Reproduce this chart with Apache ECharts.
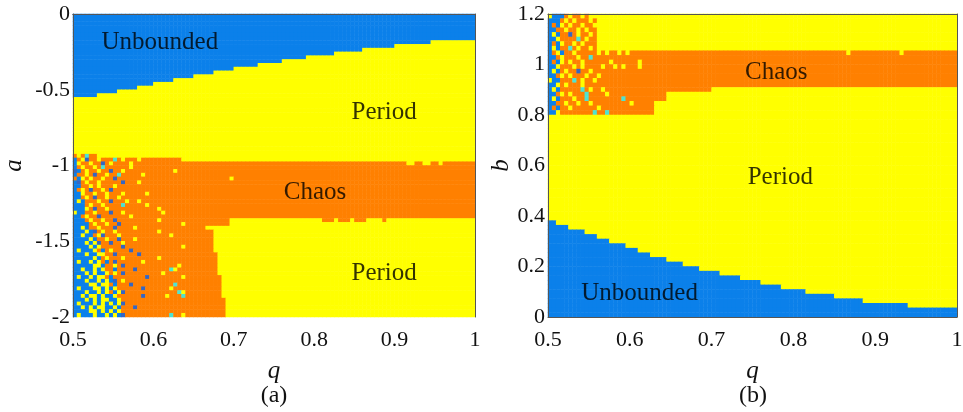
<!DOCTYPE html>
<html>
<head>
<meta charset="utf-8">
<script src="https://cdn.jsdelivr.net/npm/echarts@6/dist/echarts.min.js"></script>
<style>
html,body{margin:0;padding:0;background:#fff;}
#chart{width:963px;height:412px;}
</style>
</head>
<body>
<div id="chart"></div>
<script>
// ---------------- data ----------------
// Cell codes: U = unbounded (blue), D = dark blue, Q = cyan, P = period (yellow), C = chaos (orange)
// Rows listed from top to bottom; tokens "X" = one cell, "Xn" = n cells, "X*" = fill to end of row.
const colsA = 100;            // q from 0.5 to 1
const rowsCountA = 80;        // a from 0 (top) to -2 (bottom)
const rowsA = [
"U*","U*","U*","U*","U*","U*","U*",
"U89 P*","U80 P*","U72 P*","U65 P*","U58 P*","U52 P*","U46 P*","U40 P*",
"U35 P*","U30 P*","U25 P*","U20 P*","U16 P*","U11 P*","U6 P*",
"P*","P*","P*","P*","P*","P*","P*","P*","P*","P*","P*","P*","P*","P*","P*",
"CPCQC C P*",
"UCPDC CPCCC QCPCC CPCCC CCCCC CC P*",
"UPCCP CCDCP CCCCP CCCCC C63 P2 C2 P2 C2 P C*",
"UCPCC PCQCC CCCCP CCCCC C*",
"DUCPC CPCCD CCPCC CCCCC CCCCC PCCCC C*",
"UCCPC DCCPC CQCCC CCPCC C*",
"CUPCP CCPCC DCCCC CCCCC CCCCC CCCCC CCCCC CCCCP C*",
"UDCPC CPCCC CCDCC CPCCC C*",
"UUCCP CPCCC PCCCC CCCCC C*",
"UCPCD CCPCD CCCCC CCCCC C*",
"UUPCC PCCPC CCPCC CCCPC C*",
"UUCPC DCCPC CPCCC CCCCC C*",
"UPUCC CPCCD CCCPC CPCCC C*",
"UUUCP CCPCC CCQCC CCCPC C*",
"UUUPC DCCPC CCCCC CCCCC CPCCC C*",
"PUUCC PCCCD CCPCC CCCCC CCPCC C*",
"UUCPC CDCCC CCCCP CCCCC CCCCC C*",
"UUUCP CCPCC DCCCC CCCCC CPCCC CCCCC CCCCC CCCCP P22 C3 P C3 P C3 P4 C P*",
"UUUUC PCCPC CDCCC CCCCC CCCCC CCPCC CCCCC CCCCP P*",
"UUPUC CPCCC DCCCC PCCCC CCCCC CCCCC CCCPP PPPPP P*",
"UUUPU DCPCC PCCCC CCCCC CPCCC CCCCC CCCCC PPPPP P*",
"UUPUU CPDCC CPCCC CCCCC CCCCP CCCCC CCCCC PPPPP P*",
"UUUUP UCCPC CDCCC PCCCC CCCCC CCCCC CCCCC PPPPP P*",
"UUUPU PDCCD CCPCC CCCCC CCCCC CCCCC CCCCC PPPPP P*",
"UUUUP UPCCC CCDCC CCCCC CCCCC CCPCC CCCCC PPPPP P*",
"UPUUU PCUCP CCCCD CCCCC CCCCC CCCCC CCCCC PPPPP P*",
"UUUPU UPPCC DCCCC CDCCC CCCCC CCCCC CCCCC CPPPP P*",
"UUUUU PUCPC CCPCC CCCCC CPCCC CCCCC CCCCC CPPPP P*",
"UPUUP UPCUC DCCCC CCPCC CCCCC CCCCC CCCCC CPPPP P*",
"UUUUU PPUCC PCDCC CCCCC CCCCC CPCCC CCCCC CPPPP P*",
"UUPUU PUPCC UCCCC DCCCC CCCCQ PCCCC CCCCC CPPPP P*",
"UUUPU PUUPC PCDCC CCCCC CCPCC CCCCC CCCCC CPPPP P*",
"UPUUP UPPCU CCCCC CCCDC CCCCC CCPCC CCCCC CCPPP P*",
"UUUPU UPUPU DCPCC CCCCC CCCCC CCCCC CCCCC CCPPP P*",
"UUUUP PUPPC UCCCD CCCCC CCCCC QCCCC CCCCC CCPPP P*",
"UPUUU PPUPU PCCCC CCDCC CCCCP CCCCC CCCCC CCPPP P*",
"UUUPU UPUPC UPDCC CCCCC CCCCC CQPCC CCCCC CCPPP P*",
"UUPUP PUPUU PCCCC CCDCC CCCPC CCQCC CCCCC CCPPP P*",
"UUUPU PUPPU UPCCC CCCCC CCCCC CCCCC CCCCC CCCPP P*",
"UPUUU PUPUP UPDCC CCCCC CCCCC CCCCC CCCCC CCCPP P*",
"UUPUP UPPUU PUCCC DCCCC CCCCC CCCCC CCCCC CCCPP P*",
"UUUUP PUPUP UPCCC CCCCC CCCCC CCCCC CCCCC CCCPP P*",
"UPUUU PUUPU PUDCC CCCCC CCCCQ CCPCC CCCCC CCCPP P*"
];

const colsB = 100;            // q from 0.5 to 1
const rowsCountB = 66;        // b from 1.2 (top) to 0 (bottom)
const rowsB = [
"PUUUC PCCPC PPP P*",
"UUUCP CPCCC PCP P*",
"UCUPC PCCPC CPP P*",
"UUCCP CCPCP CCP P*",
"UPUCC DCPCC PCP P*",
"UUPCC CCQCP CCP P*",
"UCUPC CPCPC CCP P*",
"UPUCC QCPCC PCP P*",
"UCPUC CPCCC CCPCP CCPCP CCCCC C C47 P C12 P C*",
"UUCPC CCPCC QCCCC CCCCC CCCCC C C*",
"UCUPC PCCPC CCCCC PCCCC CCPCC C C*",
"UUPCC CPCPC CCCPC CPCPC CCPCC C C*",
"UPUCP CCDCC PCCCC CCCCC CCCCC C C*",
"UUCPC PCCCP CCPCC CCCCC CCCCC C C*",
"PUUCC CQCPC CPCCC CCCCC CCCCC C C*",
"UUPCP CCCPC CCCCC CCCCC CCCCC C C*",
"UPUCC CCCQC PCCPC CCCCC CCCCC C C14 P*",
"UUCPC PCCCQ CCCCP CCCCC CCCCC C C3 P*",
"UPUCC CPCCQ CCCCC CCCQC CCCCC C C3 P*",
"UUCCP CCPCC PCCCC CCCCC PCCCC C P*",
"UCUCC PCCCC CCPCC CCCCC CCCCC C P*",
"UUPCC CCCCC CQCCQ CCCCC CCCCC C P*",
"P*","P*","P*","P*","P*","P*","P*","P*","P*","P*","P*","P*",
"P*","P*","P*","P*","P*","P*","P*","P*","P*","P*","P*",
"U2 P*","U5 P*","U9 P*","U12 P*","U15 P*","U19 P*","U22 P*","U25 P*",
"U29 P*","U33 P*","U37 P*","U42 P*","U47 P*","U52 P*","U57 P*","U63 P*",
"U70 P*","U77 P*","U88 P*","U*","U*"
];

const codeValue = {U: 0, D: 1, Q: 2, P: 3, C: 4};
const codeColors = ['#0B80EA', '#3566C2', '#4FE3D0', '#FFFF00', '#FF8000'];

const xTicksA = {min: 0.5, max: 1, interval: 0.1};
const yTicksA = {min: -2, max: 0, interval: 0.5};
const xTicksB = {min: 0.5, max: 1, interval: 0.1};
const yTicksB = {min: 0, max: 1.2, interval: 0.2};

// annotations: [q, value, text]
const labelsA = [[0.608, -0.19, 'Unbounded'], [0.887, -0.647, 'Period'], [0.801, -1.18, 'Chaos'], [0.887, -1.71, 'Period']];
const labelsB = [[0.779, 0.970, 'Chaos'], [0.784, 0.554, 'Period'], [0.612, 0.095, 'Unbounded']];

// ---------------- build ----------------
function decode(rows, width) {
  return rows.map(function (s) {
    const str = s.replace(/\s+/g, '');
    const out = [];
    const re = /([A-Z])(\d+|\*)?/g;
    let m;
    while ((m = re.exec(str))) {
      const n = m[2] === '*' ? width - out.length : (m[2] ? +m[2] : 1);
      for (let i = 0; i < n; i++) out.push(m[1]);
    }
    while (out.length < width) out.push(out[out.length - 1]);
    return out.slice(0, width);
  });
}
function toHeat(rows, width, nRows) {
  const grid = decode(rows, width);
  const data = [];
  for (let r = 0; r < nRows; r++) {
    const row = grid[r];
    for (let c = 0; c < width; c++) data.push([c, nRows - 1 - r, codeValue[row[c]]]);
  }
  return data;
}
function cats(n) { const a = []; for (let i = 0; i < n; i++) a.push(String(i)); return a; }

const FONT = '"Liberation Serif", "Times New Roman", serif';
const TXT = '#111';
const lineStyle = {color: '#555', width: 1};

function valueAxis(gridIndex, ticks, pos, withLabels, name, nameGap, isY) {
  return {
    type: 'value', gridIndex: gridIndex, position: pos,
    min: ticks.min, max: ticks.max, interval: ticks.interval,
    z: 10,
    axisLine: {show: true, lineStyle: lineStyle},
    axisTick: {show: false},
    splitLine: {show: false},
    axisLabel: {show: withLabels, fontFamily: FONT, fontSize: 22, color: TXT, margin: isY ? 3 : 12},
    name: withLabels ? name : '',
    nameLocation: 'middle',
    nameGap: nameGap,
    nameTextStyle: {fontFamily: FONT, fontStyle: 'italic', fontSize: 25, color: TXT}
  };
}

const chart = echarts.init(document.getElementById('chart'), null, {renderer: 'canvas'});
const option = {
  animation: false,
  backgroundColor: '#fff',
  grid: [
    {left: 73, top: 14, width: 402, height: 303, containLabel: false, outerBoundsMode: 'none'},
    {left: 548, top: 14, width: 409, height: 303, containLabel: false, outerBoundsMode: 'none'}
  ],
  xAxis: [
    {type: 'category', gridIndex: 0, position: 'bottom', data: cats(colsA), show: false},
    valueAxis(0, xTicksA, 'bottom', true, 'q', 42, false),
    valueAxis(0, xTicksA, 'top', false, '', 0, false),
    {type: 'category', gridIndex: 1, position: 'bottom', data: cats(colsB), show: false},
    valueAxis(1, xTicksB, 'bottom', true, 'q', 42, false),
    valueAxis(1, xTicksB, 'top', false, '', 0, false)
  ],
  yAxis: [
    {type: 'category', gridIndex: 0, position: 'left', data: cats(rowsCountA), show: false},
    valueAxis(0, yTicksA, 'left', true, 'a', 46, true),
    valueAxis(0, yTicksA, 'right', false, '', 0, true),
    {type: 'category', gridIndex: 1, position: 'left', data: cats(rowsCountB), show: false},
    valueAxis(1, yTicksB, 'left', true, 'b', 33, true),
    valueAxis(1, yTicksB, 'right', false, '', 0, true)
  ],
  visualMap: {
    type: 'piecewise', show: false, seriesIndex: [0, 1], dimension: 2,
    pieces: codeColors.map(function (col, i) { return {value: i, color: col}; })
  },
  series: [
    {type: 'heatmap', xAxisIndex: 0, yAxisIndex: 0, data: toHeat(rowsA, colsA, rowsCountA),
     progressive: 0, silent: true, emphasis: {disabled: true}},
    {type: 'heatmap', xAxisIndex: 3, yAxisIndex: 3, data: toHeat(rowsB, colsB, rowsCountB),
     progressive: 0, silent: true, emphasis: {disabled: true}},
    {type: 'scatter', xAxisIndex: 1, yAxisIndex: 1, z: 5, symbolSize: 0, silent: true, data: labelsA,
     label: {show: true, position: 'inside', formatter: function (p) { return p.value[2]; },
             fontFamily: FONT, fontSize: 25, color: '#000'}},
    {type: 'scatter', xAxisIndex: 4, yAxisIndex: 4, z: 5, symbolSize: 0, silent: true, data: labelsB,
     label: {show: true, position: 'inside', formatter: function (p) { return p.value[2]; },
             fontFamily: FONT, fontSize: 25, color: '#000'}}
  ],
  graphic: [
    {type: 'text', x: 274, y: 396, style: {text: '(a)', font: '24px "Liberation Serif"', fill: TXT, textAlign: 'center', textVerticalAlign: 'middle'}},
    {type: 'text', x: 753, y: 396, style: {text: '(b)', font: '24px "Liberation Serif"', fill: TXT, textAlign: 'center', textVerticalAlign: 'middle'}}
  ]
};
chart.setOption(option);
</script>
</body>
</html>
